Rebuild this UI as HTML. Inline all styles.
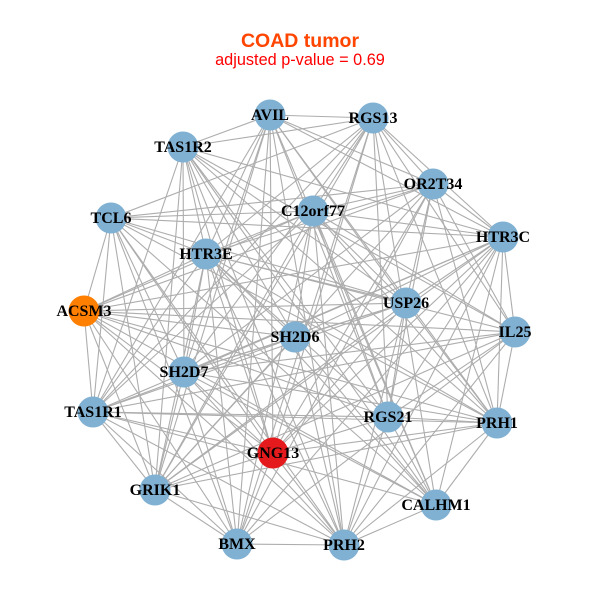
<!DOCTYPE html>
<html>
<head>
<meta charset="utf-8">
<style>
html,body{margin:0;padding:0;background:#fff;}
svg{display:block;}
.lbl{font-family:"Liberation Serif",serif;font-weight:bold;font-size:16px;fill:#000;text-anchor:middle;}
</style>
</head>
<body>
<svg id="s" width="600" height="600" viewBox="0 0 600 600" xmlns="http://www.w3.org/2000/svg">
<rect width="600" height="600" fill="#fff"/>
<text x="300" y="47" text-anchor="middle" style="font-family:'Liberation Sans',sans-serif;font-weight:bold;font-size:19.5px" fill="#FF4500">COAD tumor</text>
<text x="300" y="65" text-anchor="middle" style="font-family:'Liberation Sans',sans-serif;font-size:16.3px" fill="#FF0000">adjusted p-value = 0.69</text>
<g id="edges" stroke="#adadad" stroke-width="1.1"></g>
<g id="nodes">
<circle cx="270" cy="115" r="15.5" fill="#80B1D3"/>
<circle cx="373" cy="118" r="15.5" fill="#80B1D3"/>
<circle cx="183" cy="147" r="15.5" fill="#80B1D3"/>
<circle cx="433" cy="184" r="15.5" fill="#80B1D3"/>
<circle cx="313" cy="211" r="15.5" fill="#80B1D3"/>
<circle cx="111" cy="218" r="15.5" fill="#80B1D3"/>
<circle cx="503" cy="237" r="15.5" fill="#80B1D3"/>
<circle cx="206" cy="254" r="15.5" fill="#80B1D3"/>
<circle cx="84" cy="311" r="15.5" fill="#FF7F00"/>
<circle cx="406" cy="303" r="15.5" fill="#80B1D3"/>
<circle cx="515" cy="332" r="15.5" fill="#80B1D3"/>
<circle cx="295" cy="337" r="15.5" fill="#80B1D3"/>
<circle cx="184" cy="372" r="15.5" fill="#80B1D3"/>
<circle cx="93" cy="412" r="15.5" fill="#80B1D3"/>
<circle cx="388" cy="417" r="15.5" fill="#80B1D3"/>
<circle cx="497" cy="423" r="15.5" fill="#80B1D3"/>
<circle cx="273" cy="453" r="15.5" fill="#E41A1C"/>
<circle cx="155" cy="490" r="15.5" fill="#80B1D3"/>
<circle cx="436" cy="505" r="15.5" fill="#80B1D3"/>
<circle cx="237" cy="544" r="15.5" fill="#80B1D3"/>
<circle cx="344" cy="545" r="15.5" fill="#80B1D3"/>
</g>
<g>
<text class="lbl" x="270" y="120">AVIL</text>
<text class="lbl" x="373" y="123">RGS13</text>
<text class="lbl" x="183" y="152">TAS1R2</text>
<text class="lbl" x="433" y="189">OR2T34</text>
<text class="lbl" x="313" y="216">C12orf77</text>
<text class="lbl" x="111" y="223">TCL6</text>
<text class="lbl" x="503" y="242">HTR3C</text>
<text class="lbl" x="206" y="259">HTR3E</text>
<text class="lbl" x="84" y="316">ACSM3</text>
<text class="lbl" x="406" y="308">USP26</text>
<text class="lbl" x="515" y="337">IL25</text>
<text class="lbl" x="295" y="342">SH2D6</text>
<text class="lbl" x="184" y="377">SH2D7</text>
<text class="lbl" x="93" y="417">TAS1R1</text>
<text class="lbl" x="388" y="422">RGS21</text>
<text class="lbl" x="497" y="428">PRH1</text>
<text class="lbl" x="273" y="458">GNG13</text>
<text class="lbl" x="155" y="495">GRIK1</text>
<text class="lbl" x="436" y="510">CALHM1</text>
<text class="lbl" x="237" y="549">BMX</text>
<text class="lbl" x="344" y="550">PRH2</text>
</g>
</svg>
<script>
(function(){
var P=[[270,115],[373,118],[183,147],[433,184],[313,211],[111,218],[503,237],[206,254],[84,311],[406,303],[515,332],[295,337],[184,372],[93,412],[388,417],[497,423],[273,453],[155,490],[436,505],[237,544],[344,545]];
var force={"0-1":1,"0-2":1,"5-8":1,"8-13":1,"13-17":1,"17-19":1,"19-20":1,"18-20":1,"15-18":1,"10-15":1,"6-10":1,"3-6":1,"1-3":1};
var ex={"2-5":1};
var g=document.getElementById("edges");
var ns="http://www.w3.org/2000/svg";
function rnd(i,j){var x=Math.sin(i*12.9898+j*78.233+3.1)*43758.5453;return x-Math.floor(x);}
for(var i=0;i<P.length;i++){for(var j=i+1;j<P.length;j++){
var k=i+"-"+j;
var inc=rnd(i,j)<0.78;
if(i==11||j==11){inc=rnd(i,j)<0.55;}
if(force[k])inc=true;
if(ex[k])inc=false;
if(!inc)continue;
var l=document.createElementNS(ns,"line");
l.setAttribute("x1",P[i][0]);l.setAttribute("y1",P[i][1]);
l.setAttribute("x2",P[j][0]);l.setAttribute("y2",P[j][1]);
g.appendChild(l);
}}
})();
</script>
</body>
</html>
